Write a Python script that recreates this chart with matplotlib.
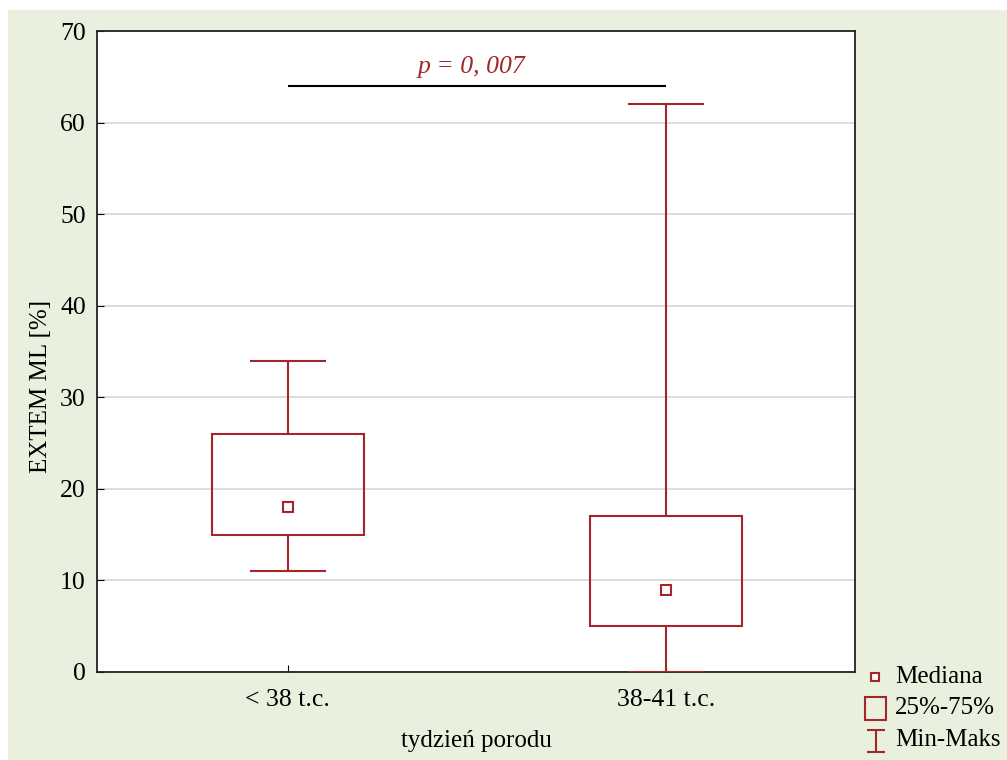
import matplotlib.pyplot as plt
from matplotlib.patches import Rectangle

plt.rcParams['font.family'] = ['Liberation Serif', 'DejaVu Serif']

# dane: min, Q1, mediana, Q3, max
groups = ['< 38 t.c.', '38-41 t.c.']
mins = [11, 0]
q1 = [15, 5]
medians = [18, 9]
q3 = [26, 17]
maxs = [34, 62]

p_text = 'p = 0, 007'
p_level = 64

RED = '#A3262A'
BG = '#E9F0DD'

fig = plt.figure(figsize=(10.07, 7.6), dpi=100)
fig.patches.append(Rectangle((8 / 1007, 0), 1 - 8 / 1007, 1 - 10 / 760,
                             transform=fig.transFigure, facecolor=BG,
                             edgecolor='none', zorder=-10))

ax = fig.add_axes([97 / 1007, 88 / 760, 758 / 1007, 641 / 760])
ax.set_facecolor('white')

pos = [1, 2]
box_w = 0.4
cap_w = 0.2
for x, lo, a, m, b, hi in zip(pos, mins, q1, medians, q3, maxs):
    ax.add_patch(Rectangle((x - box_w / 2, a), box_w, b - a, fill=False,
                           edgecolor=RED, linewidth=1.5, zorder=3))
    ax.vlines(x, b, hi, color=RED, linewidth=1.5, zorder=3)
    ax.vlines(x, lo, a, color=RED, linewidth=1.5, zorder=3)
    ax.hlines([hi, lo], x - cap_w / 2, x + cap_w / 2, color=RED,
              linewidth=1.5, zorder=3)
    ax.plot(x, m, 's', markersize=7, markerfacecolor='white',
            markeredgecolor=RED, markeredgewidth=1.5, zorder=4)

# linia istotnosci
ax.hlines(p_level, pos[0], pos[1], color='black', linewidth=1.5, zorder=3)
ax.text((pos[0] + pos[1]) / 2 - 0.015, p_level + 0.9, p_text, color=RED,
        fontsize=18.5, style='italic', ha='center', va='bottom')

ax.set_xlim(0.495, 2.5)
ax.set_ylim(0, 70)
ax.set_yticks(range(0, 71, 10))
ax.set_xticks(pos)
ax.set_xticklabels(groups)
ax.yaxis.grid(True, color='#DADADA', linewidth=1.3, zorder=0)
ax.set_axisbelow(True)
ax.tick_params(axis='both', direction='in', labelsize=18.5, color='black')
ax.tick_params(axis='y', length=5, pad=8)
ax.tick_params(axis='x', length=5, pad=12)
for s in ax.spines.values():
    s.set_linewidth(1.3)
    s.set_color('#222222')

ax.set_ylabel('EXTEM ML [%]', fontsize=18)
ax.set_xlabel('tydzień porodu', fontsize=18)
ax.yaxis.set_label_coords(-0.059, 0.446)
ax.xaxis.set_label_coords(0.5, -0.09)

# legenda
lg = fig.add_axes([855 / 1007, 0, 152 / 1007, 100 / 760])
lg.set_xlim(0, 152)
lg.set_ylim(100, 0)
lg.axis('off')
lg.plot(20, 17, 's', markersize=6, markerfacecolor='white',
        markeredgecolor=RED, markeredgewidth=1.5)
lg.add_patch(Rectangle((10, 37), 21, 23, fill=False, edgecolor=RED,
                       linewidth=1.5))
lg.vlines(21, 70, 92, color=RED, linewidth=1.5)
lg.hlines([70, 92], 12, 30, color=RED, linewidth=1.5)
for yy, t in zip([17, 48, 80], ['Mediana', '25%-75%', 'Min-Maks']):
    lg.text(40, yy, t, fontsize=18, va='center', ha='left')

fig.savefig('out.png', dpi=100)
